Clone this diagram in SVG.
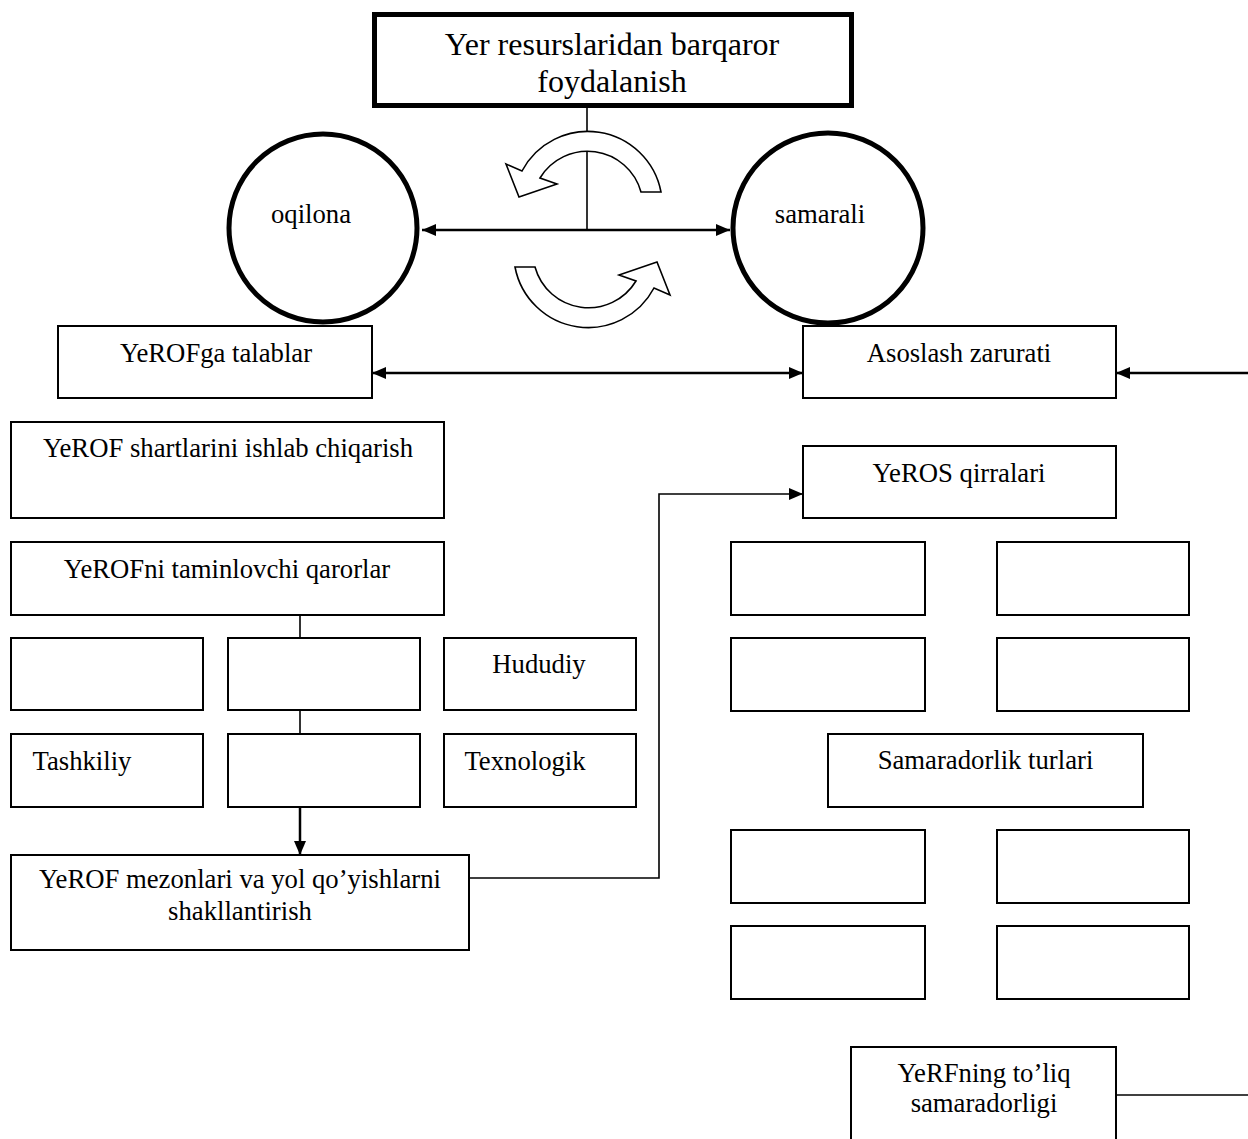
<svg xmlns="http://www.w3.org/2000/svg" width="1248" height="1139" viewBox="0 0 1248 1139">
<style>
  text { font-family: "Liberation Serif", "Times New Roman", serif; font-size: 26.7px; fill: #000; text-anchor: middle; }
  .title { font-size: 32px; }
  .box { fill: #fff; stroke: #000; stroke-width: 2; }
  .tbox { fill: #fff; stroke: #000; stroke-width: 5; }
  .circ { fill: #fff; stroke: #000; stroke-width: 5; }
  .ln { fill: none; stroke: #000; stroke-width: 2.5; }
  .thin { fill: none; stroke: #000; stroke-width: 1.6; }
  .carrow { fill: #fff; stroke: #000; stroke-width: 1.6; stroke-linejoin: miter; }
</style>
<defs>
  <marker id="ah" viewBox="0 0 14 12" refX="14" refY="6" markerWidth="14" markerHeight="12" markerUnits="userSpaceOnUse" orient="auto-start-reverse">
    <path d="M0,0 L14,6 L0,12 Z" fill="#000"/>
  </marker>
</defs>
<rect width="1248" height="1139" fill="#fff"/>

<g id="connectors">
  <path class="thin" d="M587,107 V230"/>
  <path class="ln" d="M422,230 H730" marker-start="url(#ah)" marker-end="url(#ah)"/>
  <path class="ln" d="M372,373 H803" marker-start="url(#ah)" marker-end="url(#ah)"/>
  <path class="ln" d="M1248,373 H1116" marker-end="url(#ah)"/>
  <path class="thin" d="M300,615 V638"/>
  <path class="thin" d="M300,710 V734"/>
  <path class="ln" d="M300,807 V855" marker-end="url(#ah)"/>
  <path class="thin" d="M469,878 H659 V494 H803" marker-end="url(#ah)"/>
  <path class="thin" d="M1116,1095 H1248"/>
</g>

<g id="cycle-arrows">
  <path id="cyc-top" class="carrow" d="M661,192 A74.5,74.5 0 0 0 522,171 L506,164 L519,197 L557,184 L540,178 A55.5,55.5 0 0 1 641,192 Z"/>
  <path id="cyc-bottom" class="carrow" transform="rotate(180 588 229.5)" d="M661,192 A74.5,74.5 0 0 0 522,171 L506,164 L519,197 L557,184 L540,178 A55.5,55.5 0 0 1 641,192 Z"/>
</g>

<g id="title">
  <rect class="tbox" x="374.5" y="14.5" width="477" height="91"/>
  <text class="title" x="612" y="55">Yer resurslaridan barqaror</text>
  <text class="title" x="612" y="92">foydalanish</text>
</g>

<g id="oqilona">
  <circle class="circ" cx="323" cy="228" r="94"/>
  <text x="311" y="223">oqilona</text>
</g>

<g id="samarali">
  <circle class="circ" cx="828" cy="228" r="95"/>
  <text x="820" y="223">samarali</text>
</g>

<g id="talablar">
  <rect class="box" x="58" y="326" width="314" height="72"/>
  <text x="216" y="362">YeROFga talablar</text>
</g>

<g id="asoslash">
  <rect class="box" x="803" y="326" width="313" height="72"/>
  <text x="959" y="362">Asoslash zarurati</text>
</g>

<g id="shartlar">
  <rect class="box" x="11" y="422" width="433" height="96"/>
  <text x="228" y="457">YeROF shartlarini ishlab chiqarish</text>
</g>

<g id="qarorlar">
  <rect class="box" x="11" y="542" width="433" height="73"/>
  <text x="227" y="578">YeROFni taminlovchi qarorlar</text>
</g>

<g id="box-r1c1"><rect class="box" x="11" y="638" width="192" height="72"/></g>
<g id="box-r1c2"><rect class="box" x="228" y="638" width="192" height="72"/></g>
<g id="hududiy">
  <rect class="box" x="444" y="638" width="192" height="72"/>
  <text x="539" y="673">Hududiy</text>
</g>

<g id="tashkiliy">
  <rect class="box" x="11" y="734" width="192" height="73"/>
  <text x="82" y="770">Tashkiliy</text>
</g>
<g id="box-r2c2"><rect class="box" x="228" y="734" width="192" height="73"/></g>
<g id="texnologik">
  <rect class="box" x="444" y="734" width="192" height="73"/>
  <text x="525" y="770">Texnologik</text>
</g>

<g id="mezonlar">
  <rect class="box" x="11" y="855" width="458" height="95"/>
  <text x="240" y="888">YeROF mezonlari va yol qo’yishlarni</text>
  <text x="240" y="920">shakllantirish</text>
</g>

<g id="qirralari">
  <rect class="box" x="803" y="446" width="313" height="72"/>
  <text x="959" y="482">YeROS qirralari</text>
</g>

<g id="q1"><rect class="box" x="731" y="542" width="194" height="73"/></g>
<g id="q2"><rect class="box" x="997" y="542" width="192" height="73"/></g>
<g id="q3"><rect class="box" x="731" y="638" width="194" height="73"/></g>
<g id="q4"><rect class="box" x="997" y="638" width="192" height="73"/></g>

<g id="turlari">
  <rect class="box" x="828" y="734" width="315" height="73"/>
  <text x="985.5" y="769">Samaradorlik turlari</text>
</g>

<g id="s1"><rect class="box" x="731" y="830" width="194" height="73"/></g>
<g id="s2"><rect class="box" x="997" y="830" width="192" height="73"/></g>
<g id="s3"><rect class="box" x="731" y="926" width="194" height="73"/></g>
<g id="s4"><rect class="box" x="997" y="926" width="192" height="73"/></g>

<g id="toliq">
  <rect class="box" x="851" y="1047" width="265" height="110"/>
  <text x="984" y="1082">YeRFning to’liq</text>
  <text x="984" y="1112">samaradorligi</text>
</g>
</svg>
